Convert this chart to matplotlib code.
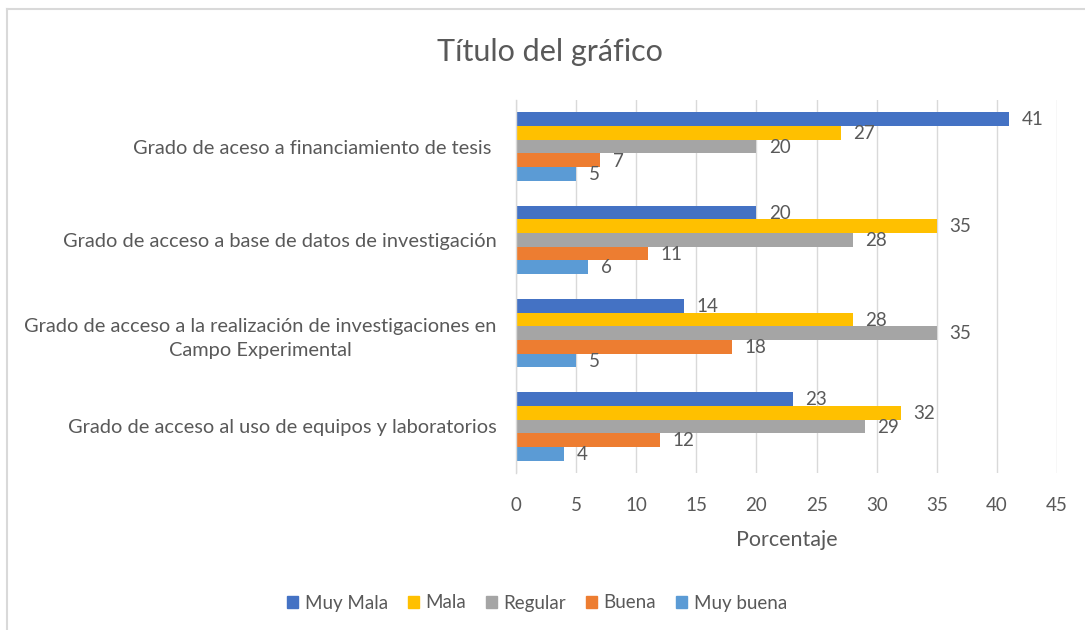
import matplotlib
matplotlib.use("Agg")
import matplotlib.pyplot as plt
from matplotlib.lines import Line2D
import numpy as np

plt.rcParams['font.family'] = ['Lato', 'DejaVu Sans']

categories = [
    "Grado de aceso a financiamiento de tesis ",
    "Grado de acceso a base de datos de investigación",
    "Grado de acceso a la realización de investigaciones en\nCampo Experimental",
    "Grado de acceso al uso de equipos y laboratorios",
]
series_names = ["Muy Mala", "Mala", "Regular", "Buena", "Muy buena"]
muy_mala = [41, 20, 14, 23]
mala = [27, 35, 28, 32]
regular = [20, 28, 35, 29]
buena = [7, 11, 18, 12]
muy_buena = [5, 6, 5, 4]
series_values = [muy_mala, mala, regular, buena, muy_buena]
colors = ["#4472C4", "#FFC000", "#A5A5A5", "#ED7D31", "#5B9BD5"]
xticks = [0, 5, 10, 15, 20, 25, 30, 35, 40, 45]

txt = "#595959"
grid = "#D9D9D9"

fig = plt.figure(figsize=(10.85, 6.3), dpi=100)
ax = fig.add_axes([516/1085, 1-473/630, (1057-516)/1085, (473-100)/630])

h = 0.147
y = np.arange(len(categories))
for j, (name, vals, c) in enumerate(zip(series_names, series_values, colors)):
    pos = y + (j - 2) * h
    bars = ax.barh(pos, vals, height=h, color=c, label=name, edgecolor='none', zorder=3)
    for b, v in zip(bars, vals):
        ax.annotate(str(v), (v, b.get_y() + b.get_height()/2), xytext=(9, -0.5),
                    textcoords='offset points', va='center', ha='left',
                    fontsize=13.5, color=txt)

ax.set_ylim(len(categories) - 0.5, -0.5)
ax.set_xlim(0, 45)
ax.set_xticks(xticks)
ax.set_xticklabels([str(t) for t in xticks])
ax.set_yticks(y)
ax.set_yticklabels(categories, multialignment='center', linespacing=1.55)
ax.tick_params(axis='both', length=0, colors=txt, labelsize=13.5)
ax.tick_params(axis='x', pad=17)
ax.tick_params(axis='y', pad=14)
for lbl in ax.get_yticklabels():
    lbl.set_fontsize(14.4)
ax.xaxis.grid(True, color=grid, linewidth=1, zorder=0)
for s in ['top', 'right', 'bottom']:
    ax.spines[s].set_visible(False)
ax.spines['left'].set_color(grid)
ax.spines['left'].set_linewidth(1)
ax.spines['left'].set_zorder(4)

ax.set_xlabel("Porcentaje", fontsize=15.5, color=txt, labelpad=12)

fig.text(550/1085, 1-52/630, "Título del gráfico", fontsize=22, color=txt,
         ha='center', va='center')

handles = [plt.Rectangle((0, 0), 1, 1, color=c) for c in colors]
fig.legend(handles, series_names, loc='center', bbox_to_anchor=(537/1085, 1-603/630),
           ncol=5, frameon=False, fontsize=13.5, labelcolor=txt,
           handlelength=0.6, handleheight=0.6, handletextpad=0.35, columnspacing=1.05)

# outer chart border (top and left visible)
fig.add_artist(Line2D([7/1085, 1], [1-9/630, 1-9/630], color=grid, lw=1.5, transform=fig.transFigure))
fig.add_artist(Line2D([7/1085, 7/1085], [0, 1-9/630], color=grid, lw=1.5, transform=fig.transFigure))

fig.savefig("out.png", dpi=100)
